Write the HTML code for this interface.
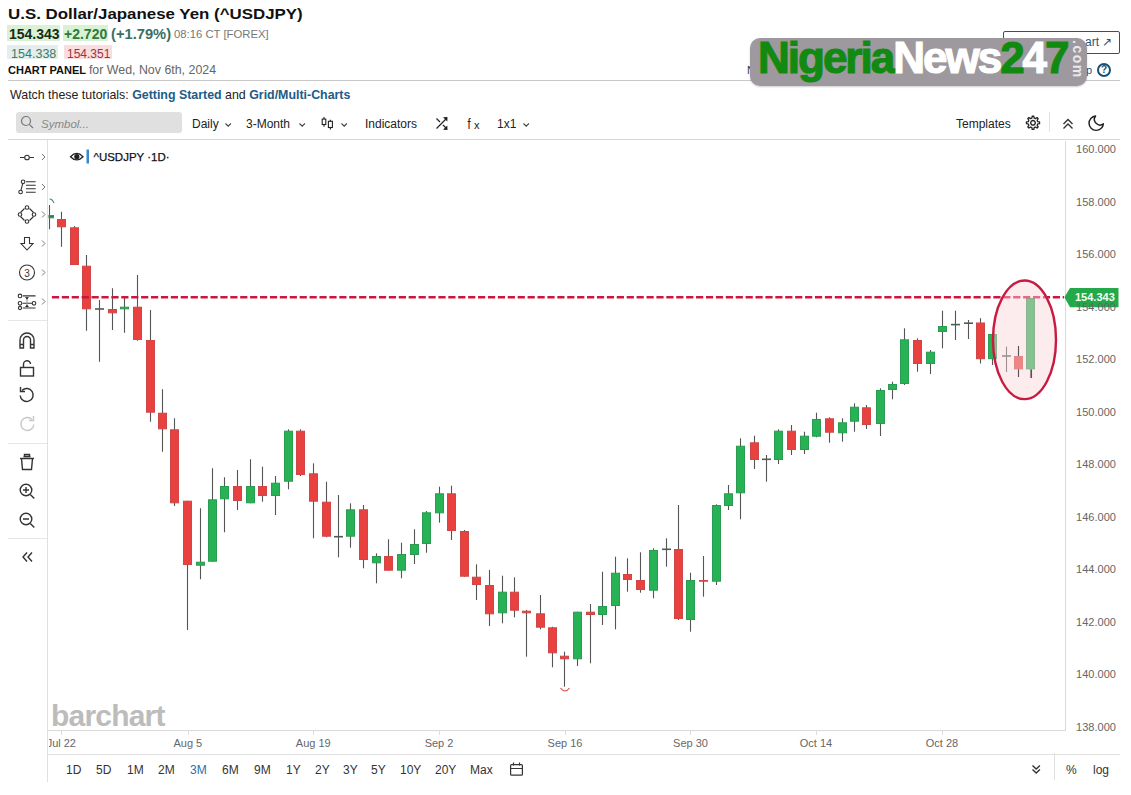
<!DOCTYPE html>
<html><head><meta charset="utf-8">
<style>
*{margin:0;padding:0;box-sizing:border-box}
html,body{width:1131px;height:795px;overflow:hidden;background:#fff}
body{position:relative;font-family:"Liberation Sans",sans-serif;color:#222}
.a{position:absolute;white-space:nowrap}
.pl{position:absolute;left:1066px;width:60px;text-align:center;font-size:11px;color:#666;line-height:14px}
.dl{position:absolute;top:736px;width:80px;text-align:center;font-size:11px;color:#666;line-height:14px}
.tb{position:absolute;top:117px;font-size:12px;color:#222;line-height:14px}
.bt{position:absolute;top:763px;font-size:12px;color:#333;line-height:14px}
</style></head>
<body>
<!-- header -->
<div class="a" style="left:8px;top:4px;font-size:15px;font-weight:bold;color:#111;line-height:20px;transform:scaleX(1.125);transform-origin:0 0">U.S. Dollar/Japanese Yen (^USDJPY)</div>
<div class="a" style="left:7px;top:25px;width:53px;height:16px;background:#d9f2d3"></div>
<div class="a" style="left:63px;top:25px;width:45px;height:16px;background:#d9f2d3"></div>
<div class="a" style="left:9px;top:26px;font-size:14px;font-weight:bold;color:#1a2a1a;line-height:16px">154.343</div>
<div class="a" style="left:64px;top:26px;font-size:14px;font-weight:bold;color:#2d7a3e;line-height:16px">+2.720</div>
<div class="a" style="left:111px;top:26px;font-size:14px;font-weight:bold;color:#3a6f62;line-height:16px;transform:scaleX(1.05);transform-origin:0 0">(+1.79%)</div>
<div class="a" style="left:174px;top:27px;font-size:11.3px;color:#777;line-height:14px">08:16 CT [FOREX]</div>
<div class="a" style="left:7px;top:45px;width:51px;height:14px;background:#e3efec"></div>
<div class="a" style="left:64px;top:45px;width:48px;height:14px;background:#f9dddf"></div>
<div class="a" style="left:11px;top:46.5px;font-size:12px;color:#3d7a6a;line-height:15px;transform:scaleX(1.045);transform-origin:0 0">154.338</div>
<div class="a" style="left:67px;top:46.5px;font-size:12px;color:#9b3344;line-height:15px">154.351</div>
<div class="a" style="left:8px;top:63px;font-size:11px;font-weight:bold;color:#111;line-height:14px">CHART PANEL <span style="font-weight:normal;color:#666;font-size:12.4px">for Wed, Nov 6th, 2024</span></div>
<div class="a" style="left:8px;top:80px;width:1112px;height:1px;background:#c8c8c8"></div>
<!-- right header -->
<div class="a" style="left:1003px;top:31px;width:117px;height:23px;border:1px solid #2a5578;border-radius:2px"></div>
<div class="a" style="left:1085px;top:35px;font-size:12px;color:#2a5578;line-height:14px">art &#8599;</div>
<div class="a" style="left:747px;top:63px;font-size:11px;color:#334;line-height:14px">N</div>
<div class="a" style="left:1086px;top:63px;font-size:11px;color:#2a5578;line-height:14px">p</div>
<div class="a" style="left:1097px;top:63px;width:14px;height:14px;border:2px solid #1d4f74;border-radius:50%;font-size:10px;font-weight:bold;color:#1d4f74;line-height:10px;text-align:center">?</div>
<!-- tutorials -->
<div class="a" style="left:10px;top:88px;font-size:12.4px;color:#222;line-height:14px">Watch these tutorials: <b style="color:#225b85">Getting Started</b> and <b style="color:#225b85">Grid/Multi-Charts</b></div>
<!-- toolbar -->
<div class="a" style="left:16px;top:112px;width:166px;height:21px;background:#e0e0e0;border-radius:3px"></div>
<svg class="a" style="left:20px;top:115px" width="14" height="14" viewBox="0 0 14 14"><circle cx="6" cy="6" r="4.5" fill="none" stroke="#777" stroke-width="1.2"/><line x1="9.3" y1="9.3" x2="13" y2="13" stroke="#777" stroke-width="1.2"/></svg>
<div class="a" style="left:41px;top:117px;font-size:11.5px;font-style:italic;color:#888;line-height:14px">Symbol...</div>
<div class="tb" style="left:192px">Daily</div>
<div class="tb" style="left:246px">3-Month</div>
<div class="tb" style="left:365px">Indicators</div>
<div class="tb" style="left:956px">Templates</div>
<div class="tb" style="left:497px">1x1</div>
<svg class="a" style="left:0;top:0" width="1131" height="795">
 <g fill="none" stroke="#444" stroke-width="1.1">
  <path d="M225.5 123.5l2.7 2.7 2.7-2.7M299.5 123.5l2.7 2.7 2.7-2.7M341.5 123.5l2.7 2.7 2.7-2.7M523.5 123.5l2.7 2.7 2.7-2.7"/>
 </g>
 <!-- candle icon -->
 <g stroke="#222" stroke-width="1.1" fill="none">
  <path d="M324 117v2M324 124.5v2.3M330.4 119.8v1.5M330.4 127.5v2"/><rect x="322.2" y="119.1" width="3.6" height="5.4"/><rect x="328.4" y="121.3" width="4" height="6.2"/>
 </g>
 <!-- shuffle -->
 <g stroke="#222" stroke-width="1.2" fill="none"><path d="M436.5 128.5L446.5 118.5M436.5 118.5l3.5 3.5M443 125l3.5 3.5"/></g>
 <path d="M447.5 117l-0.2 4.5-4.3-4.3z M447.5 130l-0.2-4.5-4.3 4.3z" fill="#222"/>
 <text x="467.5" y="129.5" font-family="Liberation Sans" font-size="14" fill="#222" transform="translate(467.5 0) scale(0.8 1) translate(-467.5 0)">f</text><text x="474" y="129" font-family="Liberation Sans" font-size="11" fill="#222">x</text>
 <!-- gear -->
 <g transform="translate(1033,122.8)" fill="none" stroke="#222" stroke-width="1.3" stroke-linejoin="round">
  <path d="M4.76 -1.14 L6.55 -0.83 L6.55 0.83 L4.76 1.14 L4.18 2.56 L5.22 4.05 L4.05 5.22 L2.56 4.18 L1.14 4.76 L0.83 6.55 L-0.83 6.55 L-1.14 4.76 L-2.56 4.18 L-4.05 5.22 L-5.22 4.05 L-4.18 2.56 L-4.76 1.14 L-6.55 0.83 L-6.55 -0.83 L-4.76 -1.14 L-4.18 -2.56 L-5.22 -4.05 L-4.05 -5.22 L-2.56 -4.18 L-1.14 -4.76 L-0.83 -6.55 L0.83 -6.55 L1.14 -4.76 L2.56 -4.18 L4.05 -5.22 L5.22 -4.05 L4.18 -2.56Z"/>
  <circle r="2.3"/>
 </g>
 <line x1="1049.5" y1="112" x2="1049.5" y2="132" stroke="#e2e2e2"/>
 <path d="M1063.5 124l4.5-4.5 4.5 4.5M1063.5 128.5l4.5-4.5 4.5 4.5" fill="none" stroke="#333" stroke-width="1.4"/>
 <path transform="translate(1086.6 113.6) scale(0.8)" d="M21 12.79A9 9 0 1 1 11.21 3 7 7 0 0 0 21 12.79z" fill="none" stroke="#222" stroke-width="1.8" stroke-linejoin="round"/>
 <line x1="8" y1="139.5" x2="1120" y2="139.5" stroke="#d8d8d8"/>
 <!-- sidebar -->
 <line x1="47.5" y1="140" x2="47.5" y2="782" stroke="#e0e0e0"/>
 <line x1="8" y1="320.5" x2="47" y2="320.5" stroke="#e6e6e6"/>
 <line x1="8" y1="443.5" x2="47" y2="443.5" stroke="#e6e6e6"/>
 <line x1="8" y1="538.5" x2="47" y2="538.5" stroke="#e6e6e6"/>
 <g fill="none" stroke="#777" stroke-width="1"><path d="M42 154l3 3-3 3M42 184l3 3-3 3M42 211.5l3 3-3 3M42 240.5l3 3-3 3M42 269.5l3 3-3 3M42 298.5l3 3-3 3"/></g>
 <g fill="none" stroke="#333" stroke-width="1.1">
  <path d="M20 157.5h4.5M29.5 157.5h4.5"/><circle cx="27" cy="157.5" r="2.3"/>
  <circle cx="23.1" cy="181.8" r="1.8"/><circle cx="20.6" cy="192" r="1.8"/><path d="M22.7 183.6l-1.7 6.6M26 181.7h9.7M26 185.3h9.7M26 188.8h9.7M26 192.3h9.7"/>
  <path d="M20.5 212.5l4-4M29.5 208.5l4 4M33.5 216.5l-4 4M24.5 220.5l-4-4"/><circle cx="27" cy="207.5" r="1.8"/><circle cx="34" cy="214.5" r="1.8"/><circle cx="27" cy="221.5" r="1.8"/><circle cx="20" cy="214.5" r="1.8"/>
  <path d="M24.5 237.5h5v6h3.5l-6 6.5-6-6.5h3.5z"/>
  <circle cx="27" cy="272.5" r="7.5"/>
  <path d="M22.8 295.9h12.7M22.8 308h12.7M22.5 303.3h9.8" /><path d="M27 296.5v11" stroke="#999"/><path d="M25 297.3h4l-2 2.3z M25 307h4l-2-2.3z" fill="#222" stroke="none"/><circle cx="20" cy="295.9" r="1.8"/><circle cx="20" cy="303.3" r="1.8"/><circle cx="20" cy="308" r="1.6"/><circle cx="34" cy="303.3" r="1.8"/>
 </g>
 <text x="27" y="276.5" text-anchor="middle" font-size="10" fill="#333" font-family="Liberation Sans">3</text>
 <g fill="none" stroke="#333" stroke-width="1.4">
  <path d="M20 348v-8a7 7 0 0 1 14 0v8h-3.5v-8a3.5 3.5 0 0 0 -7 0v8z M20 344.5h3.5M30.5 344.5h3.5"/>
  <rect x="20.5" y="367.5" width="13" height="8.5"/><path d="M23.5 367.5v-3a3.5 3.5 0 0 1 7 -.5"/>
  <path d="M22 390.5a6.5 6.5 0 1 1 -1.8 5"/><path d="M20.5 387v4.5h4.5"/>
  <path d="M23.5 456.5h7M20 458.5h14M21.5 458.5l1 11h9l1-11M24.5 456.5v-2h5v2"/>
  <circle cx="26" cy="490" r="5.8"/><path d="M30.3 494.5l4 4M23 490h6M26 487v6"/>
  <circle cx="26" cy="519" r="5.8"/><path d="M30.3 523.5l4 4M23 519h6"/>
  <path d="M27 552.5l-4 4.5 4 4.5M32 552.5l-4 4.5 4 4.5"/>
 </g>
 <g fill="none" stroke="#c8c8c8" stroke-width="1.4"><path d="M32 419.5a6.5 6.5 0 1 0 1.8 5"/><path d="M33.5 416v4.5h-4.5"/></g>
 <!-- plot frame -->
 <line x1="1065.5" y1="141" x2="1065.5" y2="730.5" stroke="#d9d9d9"/>
 <line x1="48" y1="730.5" x2="1066" y2="730.5" stroke="#d9d9d9"/>
 <line x1="48" y1="754.5" x2="1120" y2="754.5" stroke="#e0e0e0"/>
 <line x1="1054.5" y1="753" x2="1054.5" y2="780" stroke="#e0e0e0"/>
 <line x1="61.5" y1="730" x2="61.5" y2="735" stroke="#ddd"/><line x1="188.5" y1="730" x2="188.5" y2="735" stroke="#ddd"/><line x1="313.5" y1="730" x2="313.5" y2="735" stroke="#ddd"/><line x1="439.5" y1="730" x2="439.5" y2="735" stroke="#ddd"/><line x1="565.5" y1="730" x2="565.5" y2="735" stroke="#ddd"/><line x1="690.5" y1="730" x2="690.5" y2="735" stroke="#ddd"/><line x1="816.5" y1="730" x2="816.5" y2="735" stroke="#ddd"/><line x1="942.5" y1="730" x2="942.5" y2="735" stroke="#ddd"/>
 <!-- candles -->
 <clipPath id="pc"><rect x="48.5" y="140" width="1016" height="590"/></clipPath><g clip-path="url(#pc)">
 <line x1="49.5" y1="205.0" x2="49.5" y2="229.3" stroke="#555" stroke-width="1.1"/>
<rect x="45.5" y="215.50" width="8" height="2.30" fill="#2e7d55" stroke="#2a9c52" stroke-width="1"/>
<line x1="61.5" y1="211.7" x2="61.5" y2="246.7" stroke="#555" stroke-width="1.1"/>
<rect x="57.5" y="219.50" width="8" height="7.30" fill="#e8413f" stroke="#cf4646" stroke-width="1"/>
<line x1="74.5" y1="226.0" x2="74.5" y2="265.0" stroke="#555" stroke-width="1.1"/>
<rect x="70.5" y="227.80" width="8" height="36.70" fill="#e8413f" stroke="#cf4646" stroke-width="1"/>
<line x1="86.5" y1="255.0" x2="86.5" y2="330.7" stroke="#555" stroke-width="1.1"/>
<rect x="82.5" y="266.20" width="8" height="42.60" fill="#e8413f" stroke="#cf4646" stroke-width="1"/>
<rect x="95.0" y="308.2" width="9" height="1.6" fill="#4a5f52"/>
<line x1="99.5" y1="300.0" x2="99.5" y2="361.7" stroke="#555" stroke-width="1.1"/>
<line x1="112.5" y1="288.3" x2="112.5" y2="330.0" stroke="#555" stroke-width="1.1"/>
<rect x="108.5" y="309.50" width="8" height="3.30" fill="#e8413f" stroke="#cf4646" stroke-width="1"/>
<line x1="124.5" y1="297.3" x2="124.5" y2="332.7" stroke="#555" stroke-width="1.1"/>
<rect x="120.5" y="307.20" width="8" height="1.60" fill="#27b255" stroke="#2a9c52" stroke-width="1"/>
<line x1="137.5" y1="275.0" x2="137.5" y2="340.7" stroke="#555" stroke-width="1.1"/>
<rect x="133.5" y="307.20" width="8" height="32.30" fill="#e8413f" stroke="#cf4646" stroke-width="1"/>
<line x1="150.5" y1="310.0" x2="150.5" y2="421.7" stroke="#555" stroke-width="1.1"/>
<rect x="146.5" y="340.50" width="8" height="71.70" fill="#e8413f" stroke="#cf4646" stroke-width="1"/>
<line x1="162.5" y1="389.3" x2="162.5" y2="451.7" stroke="#555" stroke-width="1.1"/>
<rect x="158.5" y="413.20" width="8" height="15.60" fill="#e8413f" stroke="#cf4646" stroke-width="1"/>
<line x1="174.5" y1="418.3" x2="174.5" y2="506.0" stroke="#555" stroke-width="1.1"/>
<rect x="170.5" y="429.80" width="8" height="73.00" fill="#e8413f" stroke="#cf4646" stroke-width="1"/>
<line x1="187.5" y1="500.7" x2="187.5" y2="630.0" stroke="#555" stroke-width="1.1"/>
<rect x="183.5" y="501.20" width="8" height="63.30" fill="#e8413f" stroke="#cf4646" stroke-width="1"/>
<line x1="200.5" y1="508.3" x2="200.5" y2="579.3" stroke="#555" stroke-width="1.1"/>
<rect x="196.5" y="562.20" width="8" height="3.00" fill="#27b255" stroke="#2a9c52" stroke-width="1"/>
<line x1="212.5" y1="468.3" x2="212.5" y2="561.7" stroke="#555" stroke-width="1.1"/>
<rect x="208.5" y="499.80" width="8" height="61.40" fill="#27b255" stroke="#2a9c52" stroke-width="1"/>
<line x1="224.5" y1="477.3" x2="224.5" y2="532.3" stroke="#555" stroke-width="1.1"/>
<rect x="220.5" y="486.50" width="8" height="12.30" fill="#27b255" stroke="#2a9c52" stroke-width="1"/>
<line x1="237.5" y1="470.0" x2="237.5" y2="510.0" stroke="#555" stroke-width="1.1"/>
<rect x="233.5" y="486.50" width="8" height="14.00" fill="#e8413f" stroke="#cf4646" stroke-width="1"/>
<line x1="250.5" y1="459.3" x2="250.5" y2="503.3" stroke="#555" stroke-width="1.1"/>
<rect x="246.5" y="486.50" width="8" height="16.30" fill="#27b255" stroke="#2a9c52" stroke-width="1"/>
<line x1="262.5" y1="466.7" x2="262.5" y2="501.7" stroke="#555" stroke-width="1.1"/>
<rect x="258.5" y="486.50" width="8" height="9.00" fill="#e8413f" stroke="#cf4646" stroke-width="1"/>
<line x1="275.5" y1="476.0" x2="275.5" y2="515.0" stroke="#555" stroke-width="1.1"/>
<rect x="271.5" y="483.20" width="8" height="12.30" fill="#27b255" stroke="#2a9c52" stroke-width="1"/>
<line x1="288.5" y1="429.3" x2="288.5" y2="489.3" stroke="#555" stroke-width="1.1"/>
<rect x="284.5" y="431.20" width="8" height="50.00" fill="#27b255" stroke="#2a9c52" stroke-width="1"/>
<line x1="300.5" y1="429.3" x2="300.5" y2="476.0" stroke="#555" stroke-width="1.1"/>
<rect x="296.5" y="431.20" width="8" height="43.30" fill="#e8413f" stroke="#cf4646" stroke-width="1"/>
<line x1="313.5" y1="463.3" x2="313.5" y2="538.3" stroke="#555" stroke-width="1.1"/>
<rect x="309.5" y="473.80" width="8" height="27.40" fill="#e8413f" stroke="#cf4646" stroke-width="1"/>
<line x1="326.5" y1="481.7" x2="326.5" y2="537.3" stroke="#555" stroke-width="1.1"/>
<rect x="322.5" y="502.20" width="8" height="34.00" fill="#e8413f" stroke="#cf4646" stroke-width="1"/>
<rect x="334.0" y="535.9000000000001" width="9" height="1.6" fill="#4a5f52"/>
<line x1="338.5" y1="495.0" x2="338.5" y2="557.3" stroke="#555" stroke-width="1.1"/>
<line x1="350.5" y1="503.3" x2="350.5" y2="547.7" stroke="#555" stroke-width="1.1"/>
<rect x="346.5" y="509.80" width="8" height="26.40" fill="#27b255" stroke="#2a9c52" stroke-width="1"/>
<line x1="363.5" y1="505.0" x2="363.5" y2="568.3" stroke="#555" stroke-width="1.1"/>
<rect x="359.5" y="509.80" width="8" height="49.70" fill="#e8413f" stroke="#cf4646" stroke-width="1"/>
<line x1="376.5" y1="553.3" x2="376.5" y2="583.3" stroke="#555" stroke-width="1.1"/>
<rect x="372.5" y="556.50" width="8" height="6.30" fill="#27b255" stroke="#2a9c52" stroke-width="1"/>
<line x1="388.5" y1="539.3" x2="388.5" y2="570.7" stroke="#555" stroke-width="1.1"/>
<rect x="384.5" y="556.50" width="8" height="13.70" fill="#e8413f" stroke="#cf4646" stroke-width="1"/>
<line x1="401.5" y1="542.7" x2="401.5" y2="578.3" stroke="#555" stroke-width="1.1"/>
<rect x="397.5" y="554.50" width="8" height="15.70" fill="#27b255" stroke="#2a9c52" stroke-width="1"/>
<line x1="414.5" y1="529.3" x2="414.5" y2="564.0" stroke="#555" stroke-width="1.1"/>
<rect x="410.5" y="544.50" width="8" height="10.00" fill="#27b255" stroke="#2a9c52" stroke-width="1"/>
<line x1="426.5" y1="511.0" x2="426.5" y2="552.7" stroke="#555" stroke-width="1.1"/>
<rect x="422.5" y="512.80" width="8" height="30.70" fill="#27b255" stroke="#2a9c52" stroke-width="1"/>
<line x1="439.5" y1="486.7" x2="439.5" y2="522.7" stroke="#555" stroke-width="1.1"/>
<rect x="435.5" y="493.80" width="8" height="19.00" fill="#27b255" stroke="#2a9c52" stroke-width="1"/>
<line x1="451.5" y1="485.7" x2="451.5" y2="540.0" stroke="#555" stroke-width="1.1"/>
<rect x="447.5" y="493.80" width="8" height="36.70" fill="#e8413f" stroke="#cf4646" stroke-width="1"/>
<line x1="464.5" y1="530.0" x2="464.5" y2="576.7" stroke="#555" stroke-width="1.1"/>
<rect x="460.5" y="531.50" width="8" height="44.70" fill="#e8413f" stroke="#cf4646" stroke-width="1"/>
<line x1="476.5" y1="564.3" x2="476.5" y2="600.0" stroke="#555" stroke-width="1.1"/>
<rect x="472.5" y="577.20" width="8" height="7.30" fill="#e8413f" stroke="#cf4646" stroke-width="1"/>
<line x1="489.5" y1="570.0" x2="489.5" y2="626.0" stroke="#555" stroke-width="1.1"/>
<rect x="485.5" y="585.50" width="8" height="28.30" fill="#e8413f" stroke="#cf4646" stroke-width="1"/>
<line x1="502.5" y1="575.7" x2="502.5" y2="623.3" stroke="#555" stroke-width="1.1"/>
<rect x="498.5" y="592.20" width="8" height="20.60" fill="#27b255" stroke="#2a9c52" stroke-width="1"/>
<line x1="514.5" y1="577.3" x2="514.5" y2="617.3" stroke="#555" stroke-width="1.1"/>
<rect x="510.5" y="592.20" width="8" height="18.00" fill="#e8413f" stroke="#cf4646" stroke-width="1"/>
<line x1="526.5" y1="610.0" x2="526.5" y2="656.7" stroke="#555" stroke-width="1.1"/>
<rect x="522.5" y="611.20" width="8" height="1.60" fill="#e8413f" stroke="#cf4646" stroke-width="1"/>
<line x1="540.5" y1="595.0" x2="540.5" y2="629.3" stroke="#555" stroke-width="1.1"/>
<rect x="536.5" y="613.80" width="8" height="13.40" fill="#e8413f" stroke="#cf4646" stroke-width="1"/>
<line x1="552.5" y1="626.7" x2="552.5" y2="667.3" stroke="#555" stroke-width="1.1"/>
<rect x="548.5" y="627.80" width="8" height="25.00" fill="#e8413f" stroke="#cf4646" stroke-width="1"/>
<line x1="564.5" y1="651.7" x2="564.5" y2="686.7" stroke="#555" stroke-width="1.1"/>
<rect x="560.5" y="656.20" width="8" height="2.60" fill="#e8413f" stroke="#cf4646" stroke-width="1"/>
<line x1="577.5" y1="611.7" x2="577.5" y2="666.0" stroke="#555" stroke-width="1.1"/>
<rect x="573.5" y="612.20" width="8" height="46.60" fill="#27b255" stroke="#2a9c52" stroke-width="1"/>
<line x1="590.5" y1="604.0" x2="590.5" y2="663.3" stroke="#555" stroke-width="1.1"/>
<rect x="586.5" y="612.20" width="8" height="2.30" fill="#e8413f" stroke="#cf4646" stroke-width="1"/>
<line x1="602.5" y1="571.7" x2="602.5" y2="625.0" stroke="#555" stroke-width="1.1"/>
<rect x="598.5" y="606.50" width="8" height="8.00" fill="#27b255" stroke="#2a9c52" stroke-width="1"/>
<line x1="615.5" y1="556.7" x2="615.5" y2="629.3" stroke="#555" stroke-width="1.1"/>
<rect x="611.5" y="573.20" width="8" height="32.30" fill="#27b255" stroke="#2a9c52" stroke-width="1"/>
<line x1="627.5" y1="558.3" x2="627.5" y2="591.7" stroke="#555" stroke-width="1.1"/>
<rect x="623.5" y="574.50" width="8" height="5.00" fill="#e8413f" stroke="#cf4646" stroke-width="1"/>
<line x1="640.5" y1="552.3" x2="640.5" y2="592.7" stroke="#555" stroke-width="1.1"/>
<rect x="636.5" y="580.50" width="8" height="9.00" fill="#e8413f" stroke="#cf4646" stroke-width="1"/>
<line x1="653.5" y1="548.3" x2="653.5" y2="598.3" stroke="#555" stroke-width="1.1"/>
<rect x="649.5" y="550.50" width="8" height="39.70" fill="#27b255" stroke="#2a9c52" stroke-width="1"/>
<rect x="662.0" y="548.5" width="9" height="1.6" fill="#4a5f52"/>
<line x1="666.5" y1="538.3" x2="666.5" y2="566.7" stroke="#555" stroke-width="1.1"/>
<line x1="678.5" y1="505.0" x2="678.5" y2="620.0" stroke="#555" stroke-width="1.1"/>
<rect x="674.5" y="549.50" width="8" height="69.00" fill="#e8413f" stroke="#cf4646" stroke-width="1"/>
<line x1="690.5" y1="572.7" x2="690.5" y2="631.7" stroke="#555" stroke-width="1.1"/>
<rect x="686.5" y="580.50" width="8" height="39.00" fill="#27b255" stroke="#2a9c52" stroke-width="1"/>
<line x1="703.5" y1="556.0" x2="703.5" y2="596.7" stroke="#555" stroke-width="1.1"/>
<rect x="699.5" y="580.50" width="8" height="0.70" fill="#e8413f" stroke="#cf4646" stroke-width="1"/>
<line x1="716.5" y1="504.3" x2="716.5" y2="585.0" stroke="#555" stroke-width="1.1"/>
<rect x="712.5" y="505.50" width="8" height="75.70" fill="#27b255" stroke="#2a9c52" stroke-width="1"/>
<line x1="728.5" y1="485.0" x2="728.5" y2="510.0" stroke="#555" stroke-width="1.1"/>
<rect x="724.5" y="493.80" width="8" height="11.70" fill="#27b255" stroke="#2a9c52" stroke-width="1"/>
<line x1="740.5" y1="438.3" x2="740.5" y2="519.3" stroke="#555" stroke-width="1.1"/>
<rect x="736.5" y="446.20" width="8" height="46.60" fill="#27b255" stroke="#2a9c52" stroke-width="1"/>
<line x1="754.5" y1="435.7" x2="754.5" y2="469.0" stroke="#555" stroke-width="1.1"/>
<rect x="750.5" y="442.80" width="8" height="16.70" fill="#e8413f" stroke="#cf4646" stroke-width="1"/>
<rect x="762.0" y="458.5" width="9" height="1.6" fill="#4a5f52"/>
<line x1="766.5" y1="455.0" x2="766.5" y2="481.7" stroke="#555" stroke-width="1.1"/>
<line x1="778.5" y1="429.3" x2="778.5" y2="464.0" stroke="#555" stroke-width="1.1"/>
<rect x="774.5" y="431.20" width="8" height="28.30" fill="#27b255" stroke="#2a9c52" stroke-width="1"/>
<line x1="791.5" y1="425.0" x2="791.5" y2="455.0" stroke="#555" stroke-width="1.1"/>
<rect x="787.5" y="431.20" width="8" height="18.30" fill="#e8413f" stroke="#cf4646" stroke-width="1"/>
<line x1="804.5" y1="431.7" x2="804.5" y2="454.0" stroke="#555" stroke-width="1.1"/>
<rect x="800.5" y="436.20" width="8" height="13.30" fill="#27b255" stroke="#2a9c52" stroke-width="1"/>
<line x1="816.5" y1="412.7" x2="816.5" y2="437.3" stroke="#555" stroke-width="1.1"/>
<rect x="812.5" y="419.50" width="8" height="16.70" fill="#27b255" stroke="#2a9c52" stroke-width="1"/>
<line x1="829.5" y1="417.3" x2="829.5" y2="442.7" stroke="#555" stroke-width="1.1"/>
<rect x="825.5" y="418.80" width="8" height="13.40" fill="#e8413f" stroke="#cf4646" stroke-width="1"/>
<line x1="842.5" y1="418.3" x2="842.5" y2="441.7" stroke="#555" stroke-width="1.1"/>
<rect x="838.5" y="422.80" width="8" height="10.00" fill="#27b255" stroke="#2a9c52" stroke-width="1"/>
<line x1="854.5" y1="403.3" x2="854.5" y2="431.7" stroke="#555" stroke-width="1.1"/>
<rect x="850.5" y="407.20" width="8" height="14.00" fill="#27b255" stroke="#2a9c52" stroke-width="1"/>
<line x1="866.5" y1="405.0" x2="866.5" y2="429.0" stroke="#555" stroke-width="1.1"/>
<rect x="862.5" y="407.80" width="8" height="16.70" fill="#e8413f" stroke="#cf4646" stroke-width="1"/>
<line x1="880.5" y1="388.3" x2="880.5" y2="436.0" stroke="#555" stroke-width="1.1"/>
<rect x="876.5" y="390.50" width="8" height="33.00" fill="#27b255" stroke="#2a9c52" stroke-width="1"/>
<line x1="892.5" y1="381.7" x2="892.5" y2="399.3" stroke="#555" stroke-width="1.1"/>
<rect x="888.5" y="384.50" width="8" height="5.00" fill="#27b255" stroke="#2a9c52" stroke-width="1"/>
<line x1="904.5" y1="328.3" x2="904.5" y2="385.0" stroke="#555" stroke-width="1.1"/>
<rect x="900.5" y="339.80" width="8" height="43.70" fill="#27b255" stroke="#2a9c52" stroke-width="1"/>
<line x1="917.5" y1="338.3" x2="917.5" y2="371.7" stroke="#555" stroke-width="1.1"/>
<rect x="913.5" y="340.50" width="8" height="23.00" fill="#e8413f" stroke="#cf4646" stroke-width="1"/>
<line x1="930.5" y1="350.0" x2="930.5" y2="374.0" stroke="#555" stroke-width="1.1"/>
<rect x="926.5" y="352.20" width="8" height="11.30" fill="#27b255" stroke="#2a9c52" stroke-width="1"/>
<line x1="942.5" y1="310.7" x2="942.5" y2="348.3" stroke="#555" stroke-width="1.1"/>
<rect x="938.5" y="326.50" width="8" height="5.00" fill="#27b255" stroke="#2a9c52" stroke-width="1"/>
<rect x="951.0" y="323.8" width="9" height="1.6" fill="#4a5f52"/>
<line x1="955.5" y1="310.7" x2="955.5" y2="340.0" stroke="#555" stroke-width="1.1"/>
<rect x="964.0" y="322.4" width="9" height="1.6" fill="#4a5f52"/>
<line x1="968.5" y1="320.0" x2="968.5" y2="339.0" stroke="#555" stroke-width="1.1"/>
<line x1="980.5" y1="318.2" x2="980.5" y2="363.6" stroke="#555" stroke-width="1.1"/>
<rect x="976.5" y="323.00" width="8" height="35.70" fill="#e8413f" stroke="#cf4646" stroke-width="1"/>
<line x1="992.5" y1="333.5" x2="992.5" y2="365.0" stroke="#555" stroke-width="1.1"/>
<rect x="988.5" y="334.50" width="8" height="24.20" fill="#27b255" stroke="#2a9c52" stroke-width="1"/>
<rect x="1002.0" y="355.2" width="9" height="1.6" fill="#4a5f52"/>
<line x1="1006.5" y1="346.6" x2="1006.5" y2="372.0" stroke="#555" stroke-width="1.1"/>
<line x1="1018.5" y1="346.0" x2="1018.5" y2="377.0" stroke="#555" stroke-width="1.1"/>
<rect x="1014.5" y="356.50" width="8" height="12.40" fill="#e8413f" stroke="#cf4646" stroke-width="1"/>
<line x1="1030.5" y1="298.0" x2="1030.5" y2="378.0" stroke="#555" stroke-width="1.1"/>
<rect x="1026.5" y="298.50" width="8" height="70.40" fill="#27b255" stroke="#2a9c52" stroke-width="1"/>
 </g>
 <!-- markers -->
 <path d="M49.5 199q3 0 4.3 4" fill="none" stroke="#3a8a70" stroke-width="1.1"/>
 <path d="M560.5 688q4.5 6 9 0" fill="none" stroke="#e04040" stroke-width="1.1"/>
 <!-- dashed line -->
 <line x1="51.9" y1="297.3" x2="1064" y2="297.3" stroke="#cc1640" stroke-width="2.6" stroke-dasharray="7.2 2.71"/>
 <!-- ellipse -->
 <ellipse cx="1024.5" cy="339.8" rx="31.5" ry="59.3" fill="rgba(250,212,218,0.45)" stroke="#c91a40" stroke-width="2.4"/>
 <line x1="1018.5" y1="346" x2="1018.5" y2="356" stroke="#555" stroke-width="1.1"/><line x1="1018.5" y1="369.4" x2="1018.5" y2="377" stroke="#555" stroke-width="1.1"/><line x1="1031.5" y1="369.4" x2="1031.5" y2="378" stroke="#555" stroke-width="1.1"/>
 <!-- price tag -->
 <path d="M1064.4 297.2L1070 288H1118.5V307.2H1070Z" fill="#23a84a"/>
 <!-- legend -->
 <path d="M70.5 156.7q6.2 -6.5 12.5 0q-6.3 6.5 -12.5 0z" fill="none" stroke="#222" stroke-width="1.3"/><circle cx="76.8" cy="156.7" r="2.6" fill="#222"/>
 <rect x="86.5" y="149.5" width="2.5" height="14" fill="#3a86d0"/>
 <!-- bottom calendar -->
 <g fill="none" stroke="#333" stroke-width="1.2"><rect x="510.6" y="764.6" width="11.8" height="10.6" rx="1"/><path d="M510.6 768.5h11.8M513.5 762.5v3M519.5 762.5v3"/></g>
 <path d="M1032.5 765.5l3.7 3.5 3.7-3.5M1032.5 769.5l3.7 3.5 3.7-3.5" fill="none" stroke="#333" stroke-width="1.4"/>
</svg>
<div class="a" style="left:93.5px;top:149.5px;font-size:11.5px;color:#111;line-height:14px;-webkit-text-stroke:0.25px #111">^USDJPY <span>·1D·</span></div>
<div class="pl" style="top:142.0px">160.000</div><div class="pl" style="top:194.5px">158.000</div><div class="pl" style="top:247.1px">156.000</div><div class="pl" style="top:299.6px">154.000</div><div class="pl" style="top:352.2px">152.000</div><div class="pl" style="top:404.7px">150.000</div><div class="pl" style="top:457.2px">148.000</div><div class="pl" style="top:509.8px">146.000</div><div class="pl" style="top:562.3px">144.000</div><div class="pl" style="top:614.9px">142.000</div><div class="pl" style="top:667.4px">140.000</div><div class="pl" style="top:719.9px">138.000</div>
<div class="a" style="left:1075px;top:290px;font-size:11px;font-weight:bold;color:#f4fff4;line-height:14px">154.343</div>
<div class="a" style="left:48.5px;top:0;width:1017px;height:795px;overflow:hidden"><div class="dl" style="left:-27.2px">Jul 22</div><div class="dl" style="left:99.3px">Aug 5</div><div class="dl" style="left:224.8px">Aug 19</div><div class="dl" style="left:350.5px">Sep 2</div><div class="dl" style="left:476.5px">Sep 16</div><div class="dl" style="left:602.0px">Sep 30</div><div class="dl" style="left:727.5px">Oct 14</div><div class="dl" style="left:853.5px">Oct 28</div></div>
<div class="a" style="left:51px;top:699px;font-size:30px;font-weight:bold;color:#bcbcbc;line-height:34px;letter-spacing:-0.8px">barchart</div>
<!-- bottom toolbar -->
<div class="bt" style="left:66px">1D</div>
<div class="bt" style="left:96px">5D</div>
<div class="bt" style="left:127px">1M</div>
<div class="bt" style="left:158px">2M</div>
<div class="bt" style="left:190px;color:#2b6ea8">3M</div>
<div class="bt" style="left:222px">6M</div>
<div class="bt" style="left:254px">9M</div>
<div class="bt" style="left:286px">1Y</div>
<div class="bt" style="left:315px">2Y</div>
<div class="bt" style="left:343px">3Y</div>
<div class="bt" style="left:371px">5Y</div>
<div class="bt" style="left:400px">10Y</div>
<div class="bt" style="left:435px">20Y</div>
<div class="bt" style="left:470px">Max</div>
<div class="bt" style="left:1066px">%</div>
<div class="bt" style="left:1093px">log</div>
<!-- watermark -->
<div class="a" style="left:750px;top:38px;width:337px;height:48px;background:#9e999e;border-radius:10px;box-shadow:0 1px 2px rgba(0,0,0,0.2)"></div>
<div class="a" style="left:758px;top:30px;font-size:44px;font-weight:bold;line-height:56px;letter-spacing:-2px"><span style="color:#128a12;-webkit-text-stroke:1.2px #128a12">Nigeria</span><span style="color:#fff;-webkit-text-stroke:1.2px #fff">News</span><span style="color:#128a12;-webkit-text-stroke:1.2px #128a12">2</span><span style="color:#fff;-webkit-text-stroke:1.2px #fff">4</span><span style="color:#128a12;-webkit-text-stroke:1.2px #128a12">7</span></div>
<div class="a" style="left:1084px;top:40px;font-size:14px;font-weight:bold;color:#eaeaea;line-height:12px;letter-spacing:1.5px;transform:rotate(90deg);transform-origin:0 0">.com</div>
</body></html>
